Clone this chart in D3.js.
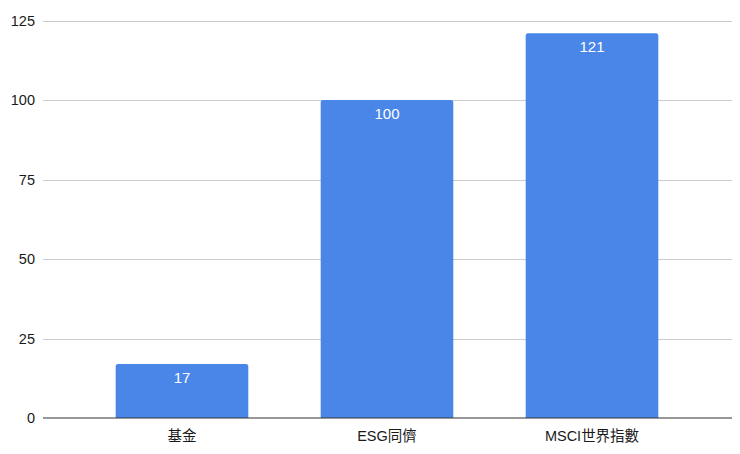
<!DOCTYPE html>
<html><head><meta charset="utf-8">
<script src="https://cdn.jsdelivr.net/npm/d3@7"></script>
<style>body{margin:0;background:#fff}svg{display:block;font-family:"Liberation Sans",Arial,"Noto Sans CJK TC",sans-serif}</style>
</head><body><svg id="c" width="740" height="454"></svg>
<script>
const categories = ["基金", "ESG同儕", "MSCI世界指數"];
const values = [17, 100, 121];
const yTicks = [0, 25, 50, 75, 100, 125];

const svg = d3.select("#c");
const x = d3.scaleBand().domain(categories).range([79.5, 694.5]).paddingInner(0.353).paddingOuter(0.1765);
const y = d3.scaleLinear().domain([0, 125]).range([418, 20.5]);

// gridlines
svg.append("g").selectAll("line").data(yTicks.filter(d => d > 0)).join("line")
  .attr("x1", 43).attr("x2", 732).attr("y1", d => Math.round(y(d)) + 0.5).attr("y2", d => Math.round(y(d)) + 0.5)
  .attr("stroke", "#cccccc").attr("stroke-width", 1);

// y labels
svg.append("g").selectAll("text").data(yTicks).join("text")
  .attr("x", 35).attr("y", d => y(d)).attr("dy", "0.35em").attr("text-anchor", "end")
  .attr("font-size", 14.5).attr("fill", "#1a1a1a").text(d => d);

// bars with rounded top corners
const r = 2.5;
svg.append("g").selectAll("path").data(values).join("path")
  .attr("fill", "#4a86e8")
  .attr("d", (d, i) => {
    const x0 = x(categories[i]), w = x.bandwidth(), yt = y(d), yb = y(0);
    return `M${x0},${yb}V${yt + r}Q${x0},${yt} ${x0 + r},${yt}H${x0 + w - r}Q${x0 + w},${yt} ${x0 + w},${yt + r}V${yb}Z`;
  });

// value labels
svg.append("g").selectAll("text").data(values).join("text")
  .attr("x", (d, i) => x(categories[i]) + x.bandwidth() / 2)
  .attr("y", d => y(d) + 14).attr("dy", "0.35em").attr("text-anchor", "middle")
  .attr("font-size", 15).attr("fill", "#ffffff").text(d => d);

// baseline
svg.append("line").attr("x1", 43).attr("x2", 732).attr("y1", y(0)).attr("y2", y(0))
  .attr("stroke", "#333").attr("stroke-width", 1.2);

// x labels
svg.append("g").selectAll("text").data(categories).join("text")
  .attr("x", d => x(d) + x.bandwidth() / 2).attr("y", 436).attr("dy", "0.35em")
  .attr("text-anchor", "middle").attr("font-size", 14.5).attr("fill", "#1a1a1a").text(d => d);
</script></body></html>
